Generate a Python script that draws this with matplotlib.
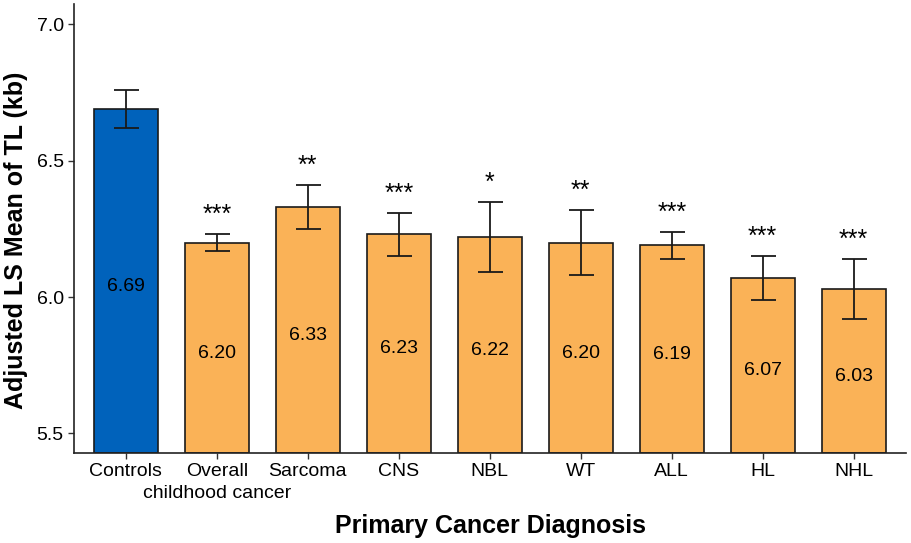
import numpy as np
import matplotlib
matplotlib.use('Agg')
import matplotlib.pyplot as plt
import matplotlib.transforms as mtransforms

plt.rcParams['font.family'] = ['Liberation Sans', 'DejaVu Sans']

# data
groups = ['Controls', 'Overall\nchildhood cancer', 'Sarcoma', 'CNS', 'NBL',
          'WT', 'ALL', 'HL', 'NHL']
means = [6.69, 6.20, 6.33, 6.23, 6.22, 6.20, 6.19, 6.07, 6.03]
errors = [0.070, 0.031, 0.081, 0.080, 0.129, 0.120, 0.050, 0.079, 0.110]
stars = ['', '***', '**', '***', '*', '**', '***', '***', '***']
colors = ['#0062BB'] + ['#FAB257'] * 8

fig = plt.figure(figsize=(9.11, 5.43), dpi=100)
ax = fig.add_axes([0.0813, 0.166, 0.9137, 0.826])

x = np.arange(len(groups))
ymin, ymax = 5.429, 7.073
label_base = 5.39

ax.bar(x, np.array(means) - ymin, bottom=ymin, width=0.7, color=colors,
       edgecolor='#1a1a1a', linewidth=1.2, zorder=2)
ax.errorbar(x, means, yerr=errors, fmt='none', ecolor='#1a1a1a',
            elinewidth=1.3, capsize=9, capthick=1.3, zorder=3)

for i, (m, e, s) in enumerate(zip(means, errors, stars)):
    ax.text(i, (m + label_base) / 2, f'{m:.2f}', ha='center', va='center',
            fontsize=14, color='black', zorder=4)
    if s:
        ax.text(i, m + e + 0.07, s, ha='center', va='center', fontsize=18)

ax.set_xlim(-0.57, 8.58)
ax.set_ylim(ymin, ymax)
ax.set_yticks([5.5, 6.0, 6.5, 7.0])
ax.set_yticklabels(['5.5', '6.0', '6.5', '7.0'])
ax.set_xticks(x)
# first line as tick label, any second line written just below it
ax.set_xticklabels([g.split('\n')[0] for g in groups])
trans = mtransforms.blended_transform_factory(ax.transData, ax.transAxes)
for i, g in enumerate(groups):
    parts = g.split('\n')
    if len(parts) > 1:
        ax.text(i, -0.090, parts[1], transform=trans, ha='center',
                va='center', fontsize=14, clip_on=False)
ax.tick_params(axis='both', labelsize=14, length=4, width=1, color='#333333',
               labelcolor='black', pad=3.5)

for side in ['top', 'right']:
    ax.spines[side].set_visible(False)
for side in ['left', 'bottom']:
    ax.spines[side].set_linewidth(1.2)
    ax.spines[side].set_color('#222222')

ax.set_xlabel('Primary Cancer Diagnosis', fontsize=18, fontweight='bold')
ax.xaxis.set_label_coords(0.5, -0.137)
ax.xaxis.label.set_va('top')
ax.set_ylabel('Adjusted LS Mean of TL (kb)', fontsize=18, fontweight='bold')
ax.yaxis.set_label_coords(-0.0557, 0.475)

fig.savefig('out.png', dpi=100)
